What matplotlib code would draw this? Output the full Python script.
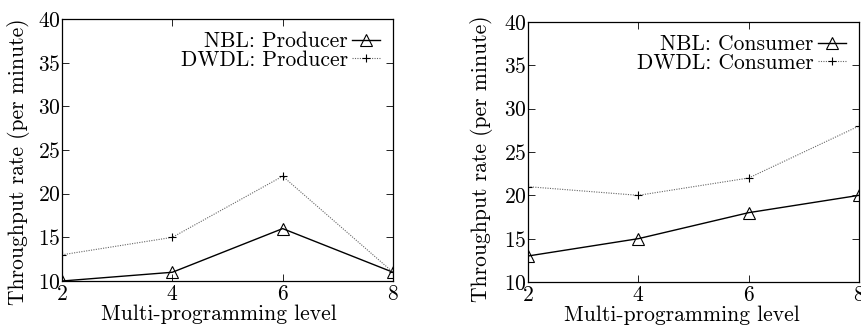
import matplotlib
matplotlib.use("Agg")
import matplotlib.pyplot as plt

levels = [2, 4, 6, 8]
nbl_producer = [10, 11, 16, 11]
dwdl_producer = [13, 15, 22, 11]
nbl_consumer = [13, 15, 18, 20]
dwdl_consumer = [21, 20, 22, 28]
yticks = [10, 15, 20, 25, 30, 35, 40]

plt.rcParams['font.family'] = ['cmr10', 'DejaVu Serif']
plt.rcParams['axes.formatter.use_mathtext'] = True
plt.rcParams['font.size'] = 15.5

fig = plt.figure(figsize=(8.62, 3.26), dpi=100)
ax1 = fig.add_axes([62/862, 1-281/326, (393-62)/862, (281-19)/326])
ax2 = fig.add_axes([528/862, 1-282/326, (859-528)/862, (282-22)/326])

def draw(ax, nbl, dwdl, name, xlab_x, ylab_x, ylab_y):
    ax.plot(levels, nbl, color='black', lw=1.0, marker='^', ms=8, mfc='none',
            mec='black', mew=0.8, label='NBL: ' + name)
    ax.plot(levels, dwdl, color='#666666', lw=0.8, ls=(0, (1, 1.2)), marker='+', ms=6,
            mec='black', mew=0.8, label='DWDL: ' + name)
    ax.set_xlim(2, 8)
    ax.set_ylim(10, 40)
    ax.set_xticks(levels)
    ax.set_yticks(yticks)
    ax.tick_params(direction='in', top=True, right=True, length=5, width=0.6)
    ax.tick_params(axis='y', pad=1)
    ax.tick_params(axis='x', pad=2.5)
    for s in ax.spines.values():
        s.set_linewidth(0.9)
    ax.set_xlabel('Multi-programming level')
    ax.xaxis.set_label_coords(xlab_x, -0.09)
    ax.set_ylabel('Throughput rate (per minute)')
    ax.yaxis.set_label_coords(ylab_x, ylab_y)
    ax.legend(loc='upper right', frameon=False, markerfirst=False, handlelength=1.3,
              handletextpad=0.2, labelspacing=-0.05, borderaxespad=0.4,
              borderpad=0.2)

draw(ax1, nbl_producer, dwdl_producer, 'Producer', 0.473, -0.097, 0.454)
draw(ax2, nbl_consumer, dwdl_consumer, 'Consumer', 0.465, -0.106, 0.473)

fig.savefig('out.png', dpi=100)
